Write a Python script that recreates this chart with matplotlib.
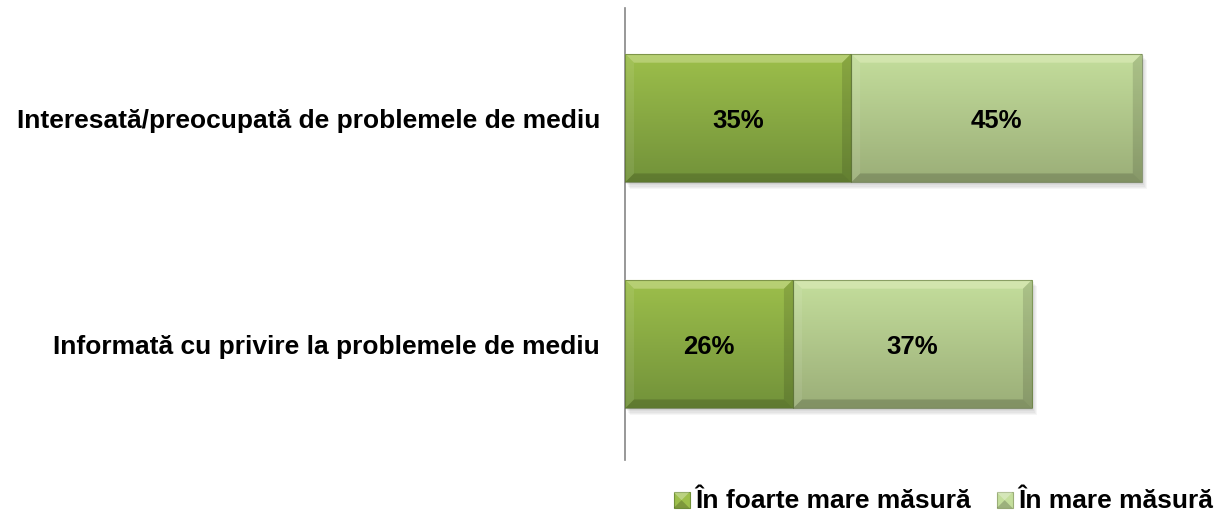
import matplotlib
matplotlib.use("Agg")
import matplotlib.pyplot as plt
import numpy as np
from matplotlib.patches import Polygon, Rectangle
from matplotlib.colors import LinearSegmentedColormap
from matplotlib.legend_handler import HandlerBase

categories = ["Interesată/preocupată de problemele de mediu",
              "Informată cu privire la problemele de mediu"]
series_names = ["În foarte mare măsură", "În mare măsură"]
very_much = [35, 26]
much = [45, 37]

plt.rcParams['font.family'] = ['Liberation Sans', 'DejaVu Sans']

fig = plt.figure(figsize=(12.3, 5.22), dpi=100)
ax = fig.add_axes([625/1230, 62/522, 575/1230, 452/522])

ypos = np.array([1, 0])
height = 0.57
colors_top = ["#9dbf4b", "#c4de9c"]
colors_bot = ["#72923a", "#9bae78"]
series = [very_much, much]

ax.set_xlim(0, 89)
ax.set_ylim(-0.513, 1.487)

bx = 1.4    # bevel in x data units
by = 0.04   # bevel in y data units


def draw_bar(x0, w, yc, ctop, cbot):
    y0 = yc - height / 2
    y1 = yc + height / 2
    x1 = x0 + w
    # soft shadow
    for k in range(5):
        d = 0.006 * (k + 1)
        ax.add_patch(Rectangle((x0 + 0.15 * (k + 1), y0 - d), w, height,
                               color="#000000", alpha=0.035, lw=0, zorder=1))
    rect = Rectangle((x0, y0), w, height, facecolor=ctop, edgecolor="none", zorder=2)
    ax.add_patch(rect)
    cmap = LinearSegmentedColormap.from_list("g", [cbot, ctop])
    grad = np.linspace(0, 1, 100).reshape(-1, 1)
    im = ax.imshow(grad, extent=(x0, x1, y0, y1), origin="lower", cmap=cmap,
                   aspect="auto", zorder=3, interpolation="bilinear")
    im.set_clip_path(rect)
    # bevels
    top = Polygon([(x0, y1), (x1, y1), (x1 - bx, y1 - by), (x0 + bx, y1 - by)],
                  facecolor="#ffffe0", alpha=0.28, lw=0, zorder=4)
    bot = Polygon([(x0, y0), (x1, y0), (x1 - bx, y0 + by), (x0 + bx, y0 + by)],
                  facecolor="black", alpha=0.16, lw=0, zorder=4)
    left = Polygon([(x0, y0), (x0, y1), (x0 + bx, y1 - by), (x0 + bx, y0 + by)],
                   facecolor="white", alpha=0.08, lw=0, zorder=4)
    right = Polygon([(x1, y0), (x1, y1), (x1 - bx, y1 - by), (x1 - bx, y0 + by)],
                    facecolor="black", alpha=0.12, lw=0, zorder=4)
    for p in (top, bot, left, right):
        ax.add_patch(p)
    ax.add_patch(Rectangle((x0, y0), w, height, facecolor="none",
                           edgecolor="#4f6628", lw=0.8, alpha=0.55, zorder=5))


left_acc = np.zeros(len(categories))
for s, vals in enumerate(series):
    for i, v in enumerate(vals):
        draw_bar(left_acc[i], v, ypos[i], colors_top[s], colors_bot[s])
        ax.text(left_acc[i] + v / 2, ypos[i], f"{v}%", ha="center",
                va="center_baseline", fontsize=18.5, fontweight="bold",
                color="black", zorder=6)
    left_acc += np.array(vals)

ax.set_yticks(ypos)
ax.set_yticklabels(categories, fontsize=19, fontweight="bold")
ax.tick_params(axis="y", length=0, pad=18)
ax.set_xticks([])
for sp in ["top", "right", "bottom"]:
    ax.spines[sp].set_visible(False)
ax.spines["left"].set_color("#868686")
ax.spines["left"].set_linewidth(1.2)


class GradHandler(HandlerBase):
    def __init__(self, ctop, cbot):
        super().__init__()
        self.ctop, self.cbot = ctop, cbot

    def create_artists(self, legend, orig_handle, xdescent, ydescent, width,
                       height, fontsize, trans):
        s = 11.5
        x = width - s
        y = (height - s) / 2 - 1
        r = Rectangle((x, y), s, s, facecolor=self.ctop, edgecolor=self.cbot,
                      lw=0.8, transform=trans)
        t = Polygon([(x, y + s), (x + s, y + s), (x + s / 2, y + s / 2)],
                    facecolor="white", alpha=0.3, lw=0, transform=trans)
        b = Polygon([(x, y), (x + s, y), (x + s / 2, y + s / 2)],
                    facecolor="black", alpha=0.2, lw=0, transform=trans)
        return [r, t, b]


h1 = Rectangle((0, 0), 1, 1)
h2 = Rectangle((0, 0), 1, 1)
leg = fig.legend([h1, h2], series_names, loc="center right",
                 bbox_to_anchor=(1226/1230, 21/522), frameon=False, ncol=2,
                 prop={"size": 19, "weight": "bold"}, handlelength=0.6,
                 handletextpad=0.2, columnspacing=1.0, borderpad=0,
                 handler_map={h1: GradHandler(colors_top[0], colors_bot[0]),
                              h2: GradHandler(colors_top[1], colors_bot[1])})

fig.savefig("out.png", dpi=100)
